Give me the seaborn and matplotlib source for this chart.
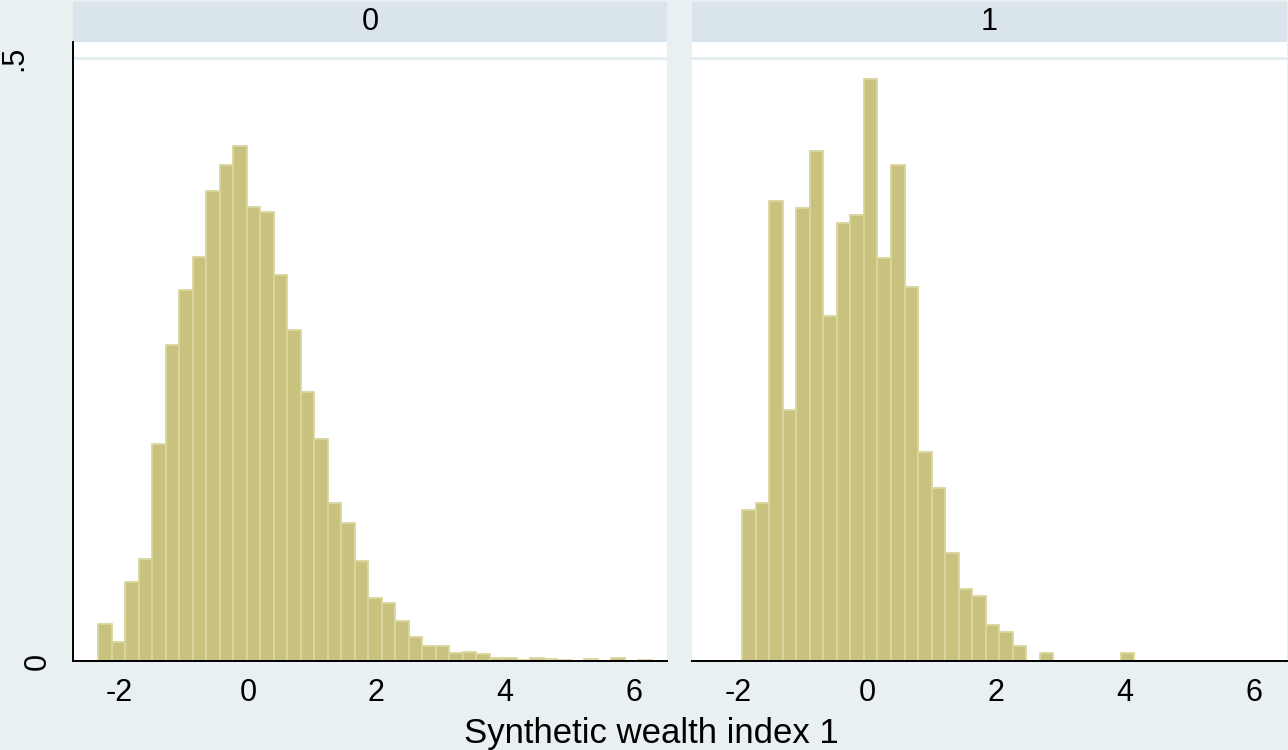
import numpy as np
import pandas as pd
import matplotlib
matplotlib.use('Agg')
import matplotlib.pyplot as plt
import matplotlib.transforms as mtransforms
from matplotlib.patches import Rectangle
import seaborn as sns

# bar heights (density), one value per bin
bin_width = 0.21
start_0 = -2.33
start_1 = -1.94
density_0 = [0.0305, 0.0154, 0.0654, 0.0842, 0.1798, 0.2623, 0.3073, 0.3349, 0.3901, 0.4110,
             0.4270, 0.3765, 0.3721, 0.3204, 0.2748, 0.2228, 0.1845, 0.1313, 0.1141, 0.0829,
             0.0522, 0.0478, 0.0329, 0.0199, 0.0122, 0.0122, 0.0064, 0.0075, 0.0061, 0.0022,
             0.0028, 0.0008, 0.0022, 0.0019, 0.0011, 0.0, 0.0019, 0.0, 0.0022, 0.0, 0.0011]
density_1 = [0.1252, 0.1311, 0.3813, 0.2082, 0.3757, 0.4233, 0.2859, 0.3633, 0.3695, 0.4830,
             0.3338, 0.4115, 0.3098, 0.1733, 0.1437, 0.0898, 0.0600, 0.0542, 0.0301, 0.0243,
             0.0122, 0.0, 0.0066, 0.0, 0.0, 0.0, 0.0, 0.0, 0.0066]
groups = ['0', '1']
x_ticks = [-2, 0, 2, 4, 6]
y_ticks = [0, 0.5]
y_ticklabels = ['0', '.5']
x_label = 'Synthetic wealth index 1'

rows = []
for g, start, dens in [('0', start_0, density_0), ('1', start_1, density_1)]:
    for i, d in enumerate(dens):
        rows.append({'group': g, 'mid': start + bin_width * (i + 0.5), 'density': d})
df = pd.DataFrame(rows)

sns.set_style('white')
plt.rcParams['font.family'] = ['Liberation Sans', 'DejaVu Sans']

outer_bg = '#E8F0F2'
strip_bg = '#D9E5EA'
bar_fill = '#C9C27F'
bar_edge = '#DAD69E'
ink = '#000000'

fig = plt.figure(figsize=(12.88, 7.5), dpi=100)
fig.patch.set_facecolor(outer_bg)

W, H = 1288, 750
panel_x = [73, 692]
panel_w = [594, 595]
bottom, top = 661, 42

for k, g in enumerate(groups):
    ax = fig.add_axes([panel_x[k] / W, (H - bottom) / H, panel_w[k] / W, (bottom - top) / H])
    ax.set_facecolor('white')
    sub = df[(df.group == g) & (df.density > 0)]
    start = start_0 if g == '0' else start_1
    n = len(density_0) if g == '0' else len(density_1)
    edges = (start + bin_width * np.arange(n + 1)).tolist()
    sns.histplot(data=sub, x='mid', weights='density', bins=edges, stat='count',
                 color=bar_fill, edgecolor=bar_edge, linewidth=1.3, alpha=1, ax=ax, zorder=3)
    ax.set_xlim(-2.72, 6.52)
    ax.set_ylim(0, 0.5133)
    ax.axhline(0.5, color='#E3ECEF', lw=2, zorder=1)
    ax.set_xticks(x_ticks)
    ax.set_xticklabels([str(t) for t in x_ticks])
    ax.set_xlabel('')
    ax.set_ylabel('')
    for s in ['top', 'right']:
        ax.spines[s].set_visible(False)
    ax.spines['bottom'].set_linewidth(1.4)
    ax.spines['bottom'].set_color(ink)
    ax.spines['bottom'].set_zorder(5)
    ax.tick_params(axis='x', length=8, width=1.2, color=ink, labelcolor=ink, labelsize=22, pad=4)
    if k == 0:
        ax.set_yticks(y_ticks)
        ax.set_yticklabels([])
        ax.tick_params(axis='y', length=8, width=1.2, color=ink)
        ax.spines['left'].set_linewidth(1.4)
        ax.spines['left'].set_color(ink)
        # Stata puts the rotated labels at slightly different offsets
        offsets = [-35, -59]
        trans = mtransforms.blended_transform_factory(ax.transAxes, ax.transData)
        for yv, lab, off in zip(y_ticks, y_ticklabels, offsets):
            t = trans + mtransforms.ScaledTranslation(off / 100, 0, fig.dpi_scale_trans)
            ax.text(0, yv, lab, transform=t, rotation=90, ha='center', va='center',
                    fontsize=22, color=ink, clip_on=False)
    else:
        ax.set_yticks([])
        ax.spines['left'].set_visible(False)
    # facet header strip
    strip_h = 40 / (bottom - top)
    ax.add_patch(Rectangle((0, 1), 1, strip_h, transform=ax.transAxes,
                           facecolor=strip_bg, edgecolor='none', clip_on=False))
    ax.text(0.5, 1 + strip_h / 2, g, transform=ax.transAxes, ha='center', va='center',
            fontsize=22, color=ink)

fig.text(651 / W, 1 - 734 / H, x_label, ha='center', va='center', fontsize=25, color=ink)

fig.savefig('out.png', dpi=100, facecolor=fig.get_facecolor())
